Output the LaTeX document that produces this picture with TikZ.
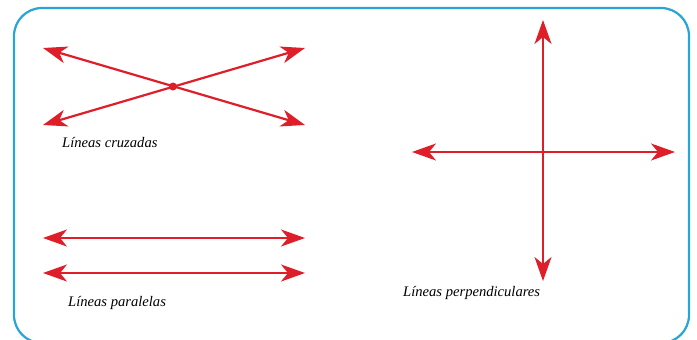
\documentclass[tikz,border=0pt]{standalone}
\usepackage{fontspec}
\setmainfont{Liberation Serif}
\usetikzlibrary{arrows.meta}
\definecolor{linered}{RGB}{222,30,40}
\definecolor{frameblue}{RGB}{40,165,215}
\begin{document}
\begin{tikzpicture}[x=1pt,y=-1pt,
  recta/.style={linered, line width=2.2pt, {Stealth[length=24pt,width=17pt,inset=7pt]}-{Stealth[length=24pt,width=17pt,inset=7pt]}},
  rotulo/.style={font=\itshape\fontsize{14.6}{17}\selectfont, anchor=west, inner sep=0pt}]
\useasboundingbox (0,0) rectangle (697,340);
\draw[frameblue, line width=2.2pt, rounded corners=28pt] (14,8) rectangle (689,343);

% lineas cruzadas
\coordinate (c1) at (43,48);
\coordinate (c2) at (305,125);
\coordinate (c3) at (43,125);
\coordinate (c4) at (305,48);
\draw[recta] (c1) -- (c2);
\draw[recta] (c3) -- (c4);
\node[shape=circle, fill=linered, inner sep=0pt, minimum size=8pt] (cruce) at (173,86.5) {};
\node[rotulo] (lcruz) at (62,143) {Líneas cruzadas};

% lineas paralelas
\coordinate (p1) at (43,238);
\coordinate (p2) at (305,238);
\coordinate (p3) at (43,273);
\coordinate (p4) at (305,273);
\draw[recta] (p1) -- (p2);
\draw[recta] (p3) -- (p4);
\node[rotulo] (lpar) at (68,303) {Líneas paralelas};

% lineas perpendiculares
\coordinate (v1) at (543,20);
\coordinate (v2) at (543,281);
\coordinate (h1) at (412,152);
\coordinate (h2) at (675,152);
\draw[recta] (v1) -- (v2);
\draw[recta] (h1) -- (h2);
\node[rotulo] (lperp) at (403,293) {Líneas perpendiculares};
\end{tikzpicture}
\end{document}
